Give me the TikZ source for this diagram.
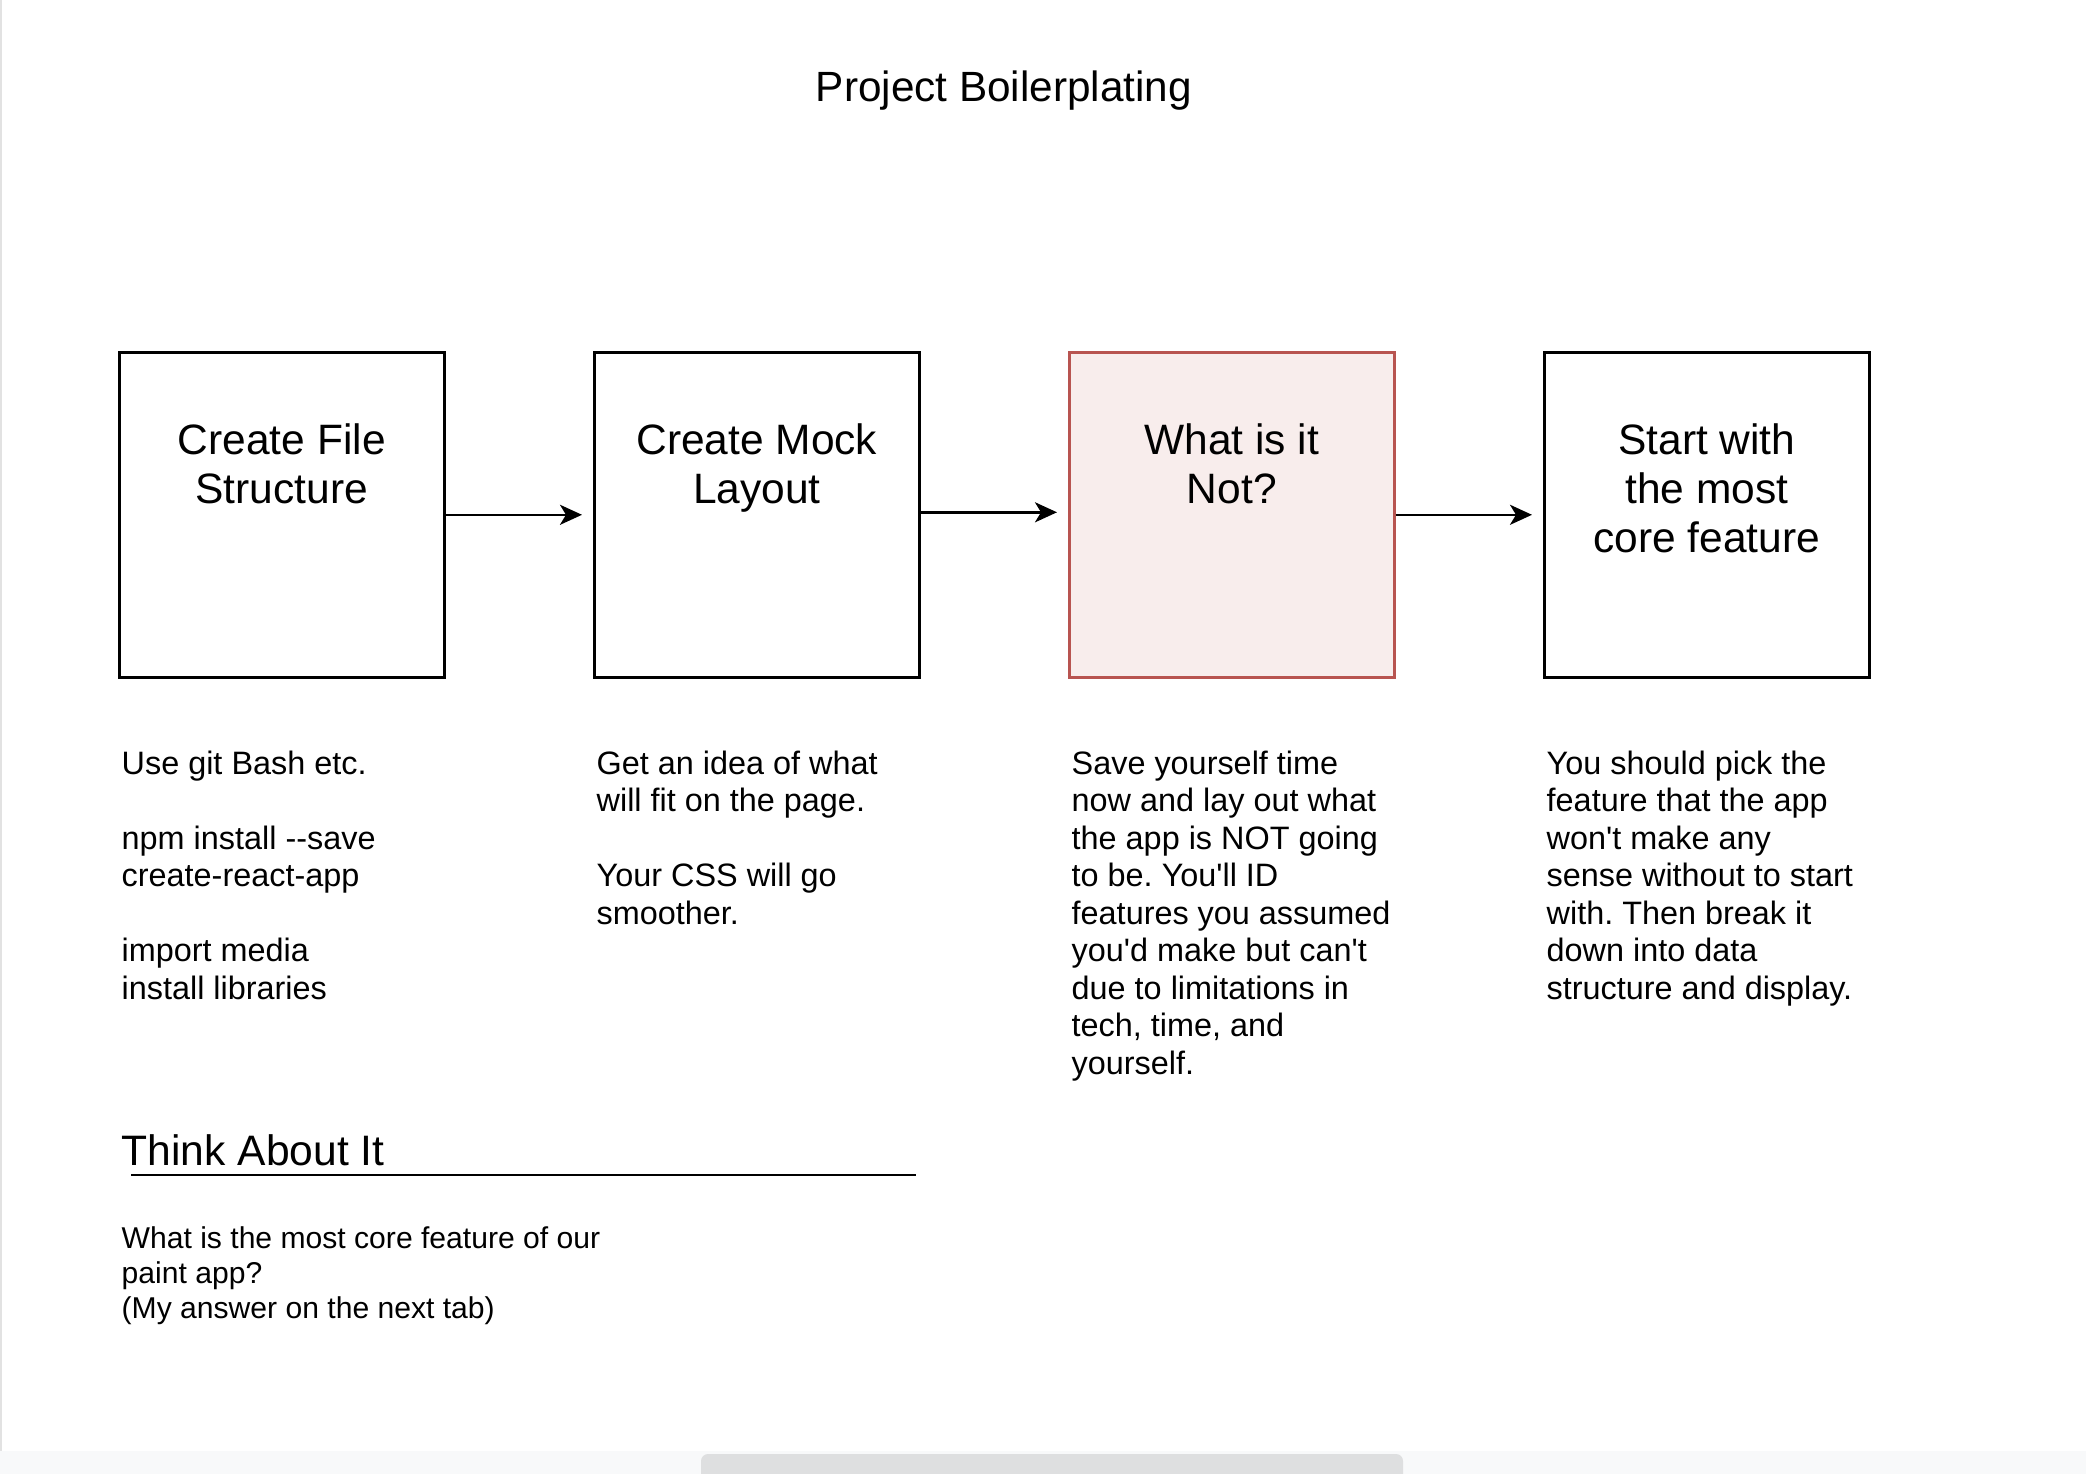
\documentclass[tikz,border=0pt]{standalone}
\usepackage{fontspec}
\newfontfamily\arial{Liberation Sans}[Ligatures=TeXOff]
\usetikzlibrary{arrows.meta}
\definecolor{redfill}{RGB}{248,237,236}
\definecolor{redline}{RGB}{184,84,80}
\definecolor{edgegrey}{RGB}{226,226,226}
\definecolor{barbg}{RGB}{248,249,250}
\definecolor{thumbgrey}{RGB}{222,223,224}
\newcommand{\fl}{\rule{0pt}{35pt}}
\begin{document}
\frenchspacing
\begin{tikzpicture}[x=1pt,y=-1pt,
  stepbox/.style={draw=black, line width=2.6pt, minimum width=325pt, minimum height=325pt, inner sep=0pt, anchor=north west, fill=white},
  notbox/.style={stepbox, draw=redline, fill=redfill},
  boxlabel/.style={anchor=north, inner sep=0pt, align=center, font={\arial\frenchspacing\fontsize{42.5}{49}\selectfont}},
  bodytext/.style={anchor=north west, inner sep=0pt, align=left, font={\arial\frenchspacing\fontsize{32.4}{37.5}\selectfont}},
  flow/.style={line width=2.6pt, -{Stealth[length=22pt,width=20pt,inset=6pt]}},
  titletext/.style={inner sep=0pt, font={\arial\fontsize{42.3}{49}\selectfont}},
  headtext/.style={anchor=base west, inner sep=0pt, font={\arial\fontsize{42.6}{49}\selectfont}},
  smalltext/.style={anchor=north west, inner sep=0pt, align=left, font={\arial\frenchspacing\fontsize{30.1}{35}\selectfont}}
]
\useasboundingbox (0,0) rectangle (2086,1474);
\fill[white] (0,0) rectangle (2086,1474);
% screenshot frame
\fill[edgegrey] (0,0) rectangle (2,1474);
\fill[barbg] (0,1451) rectangle (2086,1474);
\fill[thumbgrey, rounded corners=7pt] (701,1490) -- (701,1454) -- (1403,1454) -- (1403,1490) -- cycle;

% title
\node (title) [titletext, anchor=base] at (1004,102) {Project Boilerplating};

% boxes
\node (b1) [stepbox] at (118,351) {};
\node (b2) [stepbox] at (593,351) {};
\node (b3) [notbox]  at (1068,351) {};
\node (b4) [stepbox] at (1543,351) {};

\node (l1) [boxlabel] at ([yshift=-68pt]b1.north) {\fl Create File\\Structure};
\node (l2) [boxlabel] at ([yshift=-68pt]b2.north) {\fl Create Mock\\Layout};
\node (l3) [boxlabel] at ([yshift=-68pt]b3.north) {\fl What is it\\Not?};
\node (l4) [boxlabel] at ([yshift=-68pt]b4.north) {\fl Start with\\the most\\core feature};

% connectors
\draw[flow] (b1.east) -- ([xshift=-11pt]b2.west);
\draw[flow] ([yshift=2.5pt]b2.east) -- ([xshift=-11pt,yshift=2.5pt]b3.west);
\draw[flow] (b3.east) -- ([xshift=-11pt]b4.west);

% descriptions
\node (d1) [bodytext] at ([xshift=3.5pt,yshift=-60.5pt]b1.south west)
  {\fl Use git Bash etc.\\\mbox{}\\npm install --save\\create-react-app\\\mbox{}\\import media\\install libraries};
\node (d2) [bodytext] at ([xshift=3.5pt,yshift=-60.5pt]b2.south west)
  {\fl Get an idea of what\\will fit on the page.\\\mbox{}\\Your CSS will go\\smoother.};
\node (d3) [bodytext] at ([xshift=3.5pt,yshift=-60.5pt]b3.south west)
  {\fl Save yourself time\\now and lay out what\\the app is NOT going\\to be. You'll ID\\features you assumed\\you'd make but can't\\due to limitations in\\tech, time, and\\yourself.};
\node (d4) [bodytext] at ([xshift=3.5pt,yshift=-60.5pt]b4.south west)
  {\fl You should pick the\\feature that the app\\won't make any\\sense without to start\\with. Then break it\\down into data\\structure and display.};

% think about it
\node (think) [headtext] at (121.5,1165) {Think About It};
\coordinate (ulA) at (131,1175);
\coordinate (ulB) at (916,1175);
\draw[line width=2.6pt] (ulA) -- (ulB);
\node (question) [smalltext] at (121.5,1213)
  {\fl What is the most core feature of our\\paint app?\\(My answer on the next tab)};
\end{tikzpicture}
\end{document}
